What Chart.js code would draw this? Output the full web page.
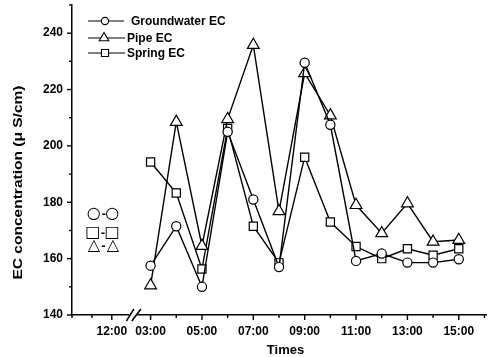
<!DOCTYPE html>
<html><head><meta charset="utf-8">
<script src="https://cdn.jsdelivr.net/npm/chart.js@4"></script>
<style>html,body{margin:0;padding:0;background:#fff}canvas{display:block}</style>
</head><body>
<canvas id="c" width="488" height="357"></canvas>
<script>
// ---- data ----
const times = ['03:00','04:00','05:00','06:00','07:00','08:00','09:00','10:00','11:00','12:00','13:00','14:00','15:00'];
const hours = [3,4,5,6,7,8,9,10,11,12,13,14,15];
const groundwaterEC = [157.5,171.5,150,205,181,157,229.5,207.5,159.2,161.8,158.6,158.6,159.8];
const pipeEC        = [150.5,208.5,164.5,209.5,235.8,176.8,225.8,210.8,179,169,179.6,166,166.6];
const springEC      = [194.3,183.3,156.3,206.2,171.5,158.5,196,173,164.3,160,163.5,161.2,163.5];
const seriesNames = ['Groundwater EC','Pipe EC','Spring EC'];
const preBreakHours = [10,11,12];          // previous-day segment ticks
const preBreakLabels = ['','','12:00'];
const postBreakHours = [3,4,5,6,7,8,9,10,11,12,13,14,15,16];
const postBreakLabels = ['03:00','','05:00','','07:00','','09:00','','11:00','','13:00','','15:00',''];
const yTickValues = [140,150,160,170,180,190,200,210,220,230,240,250];
const yTickLabels = ['140','','160','','180','','200','','220','','240',''];
const symbolRows = [['○','-','○'],['□','-','□'],['△','-','△']];

// broken axis: left segment compressed
const LEFT_END = 1.49, LEFT_STEP = 0.775, BREAK_AT = 2.33;
const preX = h => LEFT_END - (12 - h) * LEFT_STEP;

const toPts = arr => hours.map((h,i)=>({x:h, y:arr[i]}));
const FONT = '"Liberation Sans", Arial, sans-serif';

function line(ctx,x1,y1,x2,y2){ctx.beginPath();ctx.moveTo(x1,y1);ctx.lineTo(x2,y2);ctx.stroke();}
function marker(ctx,style,x,y,r){
  ctx.beginPath();
  if(style==='circle'){ctx.arc(x,y,r,0,Math.PI*2);}
  else if(style==='triangle'){ctx.moveTo(x,y-r);ctx.lineTo(x+r*0.866,y+r*0.5);ctx.lineTo(x-r*0.866,y+r*0.5);ctx.closePath();}
  else {const s=r*Math.SQRT1_2;ctx.rect(x-s,y-s,2*s,2*s);}
  ctx.fillStyle='#fff';ctx.fill();ctx.stroke();
}

const decor = {
  id:'decor',
  afterDraw(chart){
    const ctx=chart.ctx, xs=chart.scales.x, ys=chart.scales.y, ca=chart.chartArea;
    ctx.save();
    ctx.strokeStyle='#000'; ctx.lineWidth=1.4;
    // y ticks
    yTickValues.forEach((v,i)=>{
      const y=ys.getPixelForValue(v); const len=yTickLabels[i]?5:3;
      line(ctx,ca.left-len,y,ca.left,y);
    });
    // x ticks
    postBreakHours.forEach((h,i)=>{
      const x=xs.getPixelForValue(h); const len=postBreakLabels[i]?5:3;
      line(ctx,x,ca.bottom,x,ca.bottom+len);
    });
    preBreakHours.forEach((h,i)=>{
      const x=xs.getPixelForValue(preX(h)); const len=preBreakLabels[i]?5:3;
      line(ctx,x,ca.bottom,x,ca.bottom+len);
    });
    // axis break
    const bx=xs.getPixelForValue(BREAK_AT);
    ctx.fillStyle='#fff'; ctx.fillRect(bx-4,ca.bottom-2,8,4);
    ctx.lineWidth=1.5;
    line(ctx,bx-7,ca.bottom+6,bx+0.5,ca.bottom-6);
    line(ctx,bx-1.5,ca.bottom+6,bx+7.5,ca.bottom-6);

    // legend
    ctx.lineWidth=1.1; ctx.fillStyle='#000';
    ctx.font='bold 12px '+FONT; ctx.textBaseline='middle'; ctx.textAlign='left';
    const leg=[{y:21,style:'circle',r:3.6,mx:105,x2:124,tx:131},
               {y:38,style:'triangle',r:5.5,mx:104,x2:125,tx:127},
               {y:53,style:'rect',r:5,mx:105,x2:125,tx:127}];
    leg.forEach((l,i)=>{
      ctx.strokeStyle='#000';
      line(ctx,88,l.y,l.x2,l.y);
      marker(ctx,l.style,l.mx,l.y,l.r);
      ctx.fillStyle='#000';
      ctx.fillText(seriesNames[i],l.tx,l.y+0.5);
    });

    // symbol annotation
    ctx.fillStyle='#000'; ctx.textAlign='center'; ctx.textBaseline='middle';
    const rowsY=[214.3,233,246.3];
    const colsX=[[93.7,103.8,112.3],[92.8,103,112],[94,103.5,113]];
    symbolRows.forEach((row,i)=>{
      row.forEach((g,j)=>{
        ctx.font=(g==='-'?'bold 13px '+FONT:'16px "DejaVu Sans"');
        ctx.fillText(g,colsX[i][j],rowsY[i]);
      });
    });

    // axis titles
    ctx.font='bold 13px '+FONT; ctx.textAlign='center'; ctx.textBaseline='middle';
    ctx.fillText('Times',285.5,350);
    const yt='EC concentration (μ S/cm)';
    const w=ctx.measureText(yt).width;
    ctx.save(); ctx.translate(18.5,182.5); ctx.rotate(-Math.PI/2); ctx.scale(194/w,1);
    ctx.fillText(yt,0,0); ctx.restore();
    ctx.restore();
  }
};

const xTickPos = preBreakHours.map(preX).concat(postBreakHours);
const xTickText = preBreakLabels.concat(postBreakLabels);

const ds = (label,arr,style,r)=>({
  label, data:toPts(arr), borderColor:'#000', borderWidth:1.4, tension:0, fill:false,
  pointStyle:style, pointRadius:r, pointHoverRadius:r, pointBackgroundColor:'#fff',
  pointBorderColor:'#000', pointBorderWidth:1.2
});

new Chart(document.getElementById('c'),{
  type:'line',
  data:{datasets:[
    ds(seriesNames[0],groundwaterEC,'circle',4.6),
    ds(seriesNames[1],pipeEC,'triangle',6.8),
    ds(seriesNames[2],springEC,'rect',5.8)
  ]},
  options:{
    responsive:false, animation:false, devicePixelRatio:1,
    layout:{autoPadding:false,padding:{top:5,right:2,left:0,bottom:0}},
    plugins:{legend:{display:false},tooltip:{enabled:false}},
    scales:{
      x:{type:'linear',min:-0.06,max:16.06,
        afterFit(s){s.height=42;s.paddingLeft=0;s.paddingRight=0;},
        afterBuildTicks(s){s.ticks=xTickPos.map(v=>({value:v}));},
        grid:{display:false,drawTicks:false},
        border:{display:true,color:'#000',width:1.5},
        ticks:{autoSkip:false,maxRotation:0,padding:9,color:'#000',font:{family:FONT,size:12,weight:'bold'},
          callback:(v,i)=>xTickText[i]}
      },
      y:{min:140,max:250,
        afterFit(s){s.width=72;s.paddingTop=0;s.paddingBottom=0;},
        afterBuildTicks(s){s.ticks=yTickValues.map(v=>({value:v}));},
        grid:{display:false,drawTicks:false},
        border:{display:true,color:'#000',width:1.5},
        ticks:{autoSkip:false,padding:9,color:'#000',font:{family:FONT,size:12,weight:'bold'},
          callback:(v,i)=>yTickLabels[i]}
      }
    }
  },
  plugins:[decor]
});
</script>
</body></html>
